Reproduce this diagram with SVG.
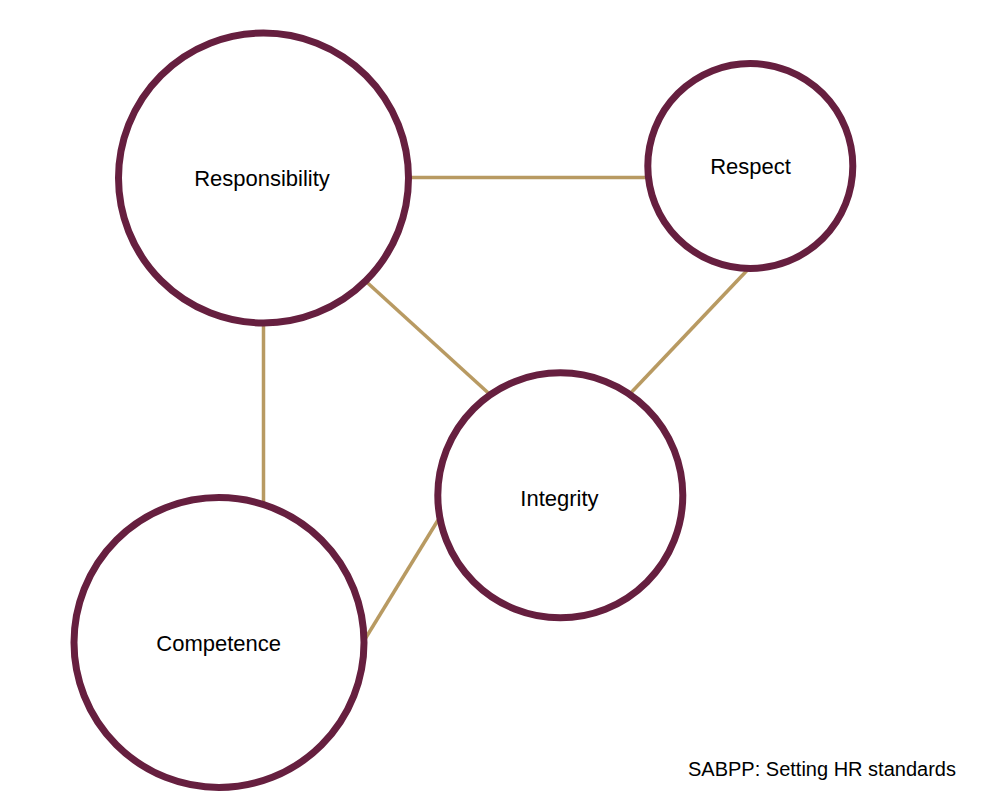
<svg xmlns="http://www.w3.org/2000/svg" width="1001" height="799" viewBox="0 0 1001 799">
<style>
.node{fill:#ffffff;stroke:#661f3f;stroke-width:7}
.lbl{font-family:"Liberation Sans",Arial,sans-serif;font-size:22px;fill:#000;text-anchor:middle}
.conn line{stroke:#b89a62;stroke-width:3.5}
</style>
<rect width="1001" height="799" fill="#ffffff"/>
<g id="connectors" class="conn">
<line x1="400" y1="177.5" x2="655" y2="177.5"/>
<line x1="360" y1="276" x2="496" y2="400"/>
<line x1="755" y1="262" x2="626" y2="398"/>
<line x1="263.5" y1="315" x2="263.5" y2="505"/>
<line x1="362" y1="644" x2="443" y2="512"/>
</g>
<g id="responsibility"><circle class="node" cx="263.5" cy="178" r="145"/><text class="lbl" x="262" y="186">Responsibility</text></g>
<g id="respect"><circle class="node" cx="750.3" cy="166" r="102.5"/><text class="lbl" x="750.5" y="174">Respect</text></g>
<g id="integrity"><circle class="node" cx="560.3" cy="495.3" r="122.5"/><text class="lbl" x="559.5" y="505.5">Integrity</text></g>
<g id="competence"><circle class="node" cx="219" cy="642.5" r="145"/><text class="lbl" x="218.7" y="651">Competence</text></g>
<text x="688" y="776" style="font-family:'Liberation Sans',Arial,sans-serif;font-size:20px;fill:#000">SABPP: Setting HR standards</text>
</svg>
